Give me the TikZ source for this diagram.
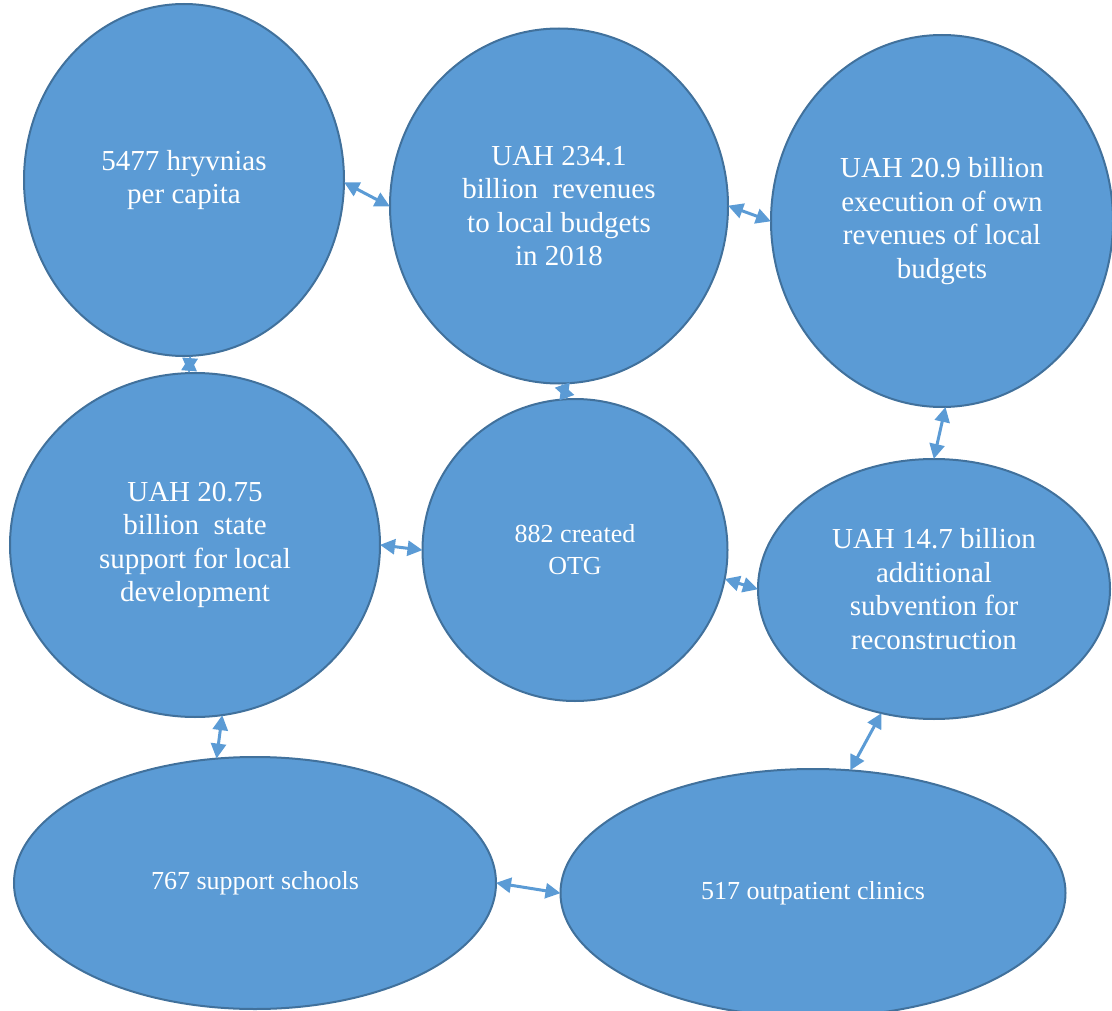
\documentclass[tikz,border=0pt]{standalone}
\usepackage{fontspec}
\setmainfont{Liberation Serif}
\usetikzlibrary{shapes.geometric,arrows.meta}
\definecolor{bluefill}{HTML}{5B9BD5}
\definecolor{blueedge}{HTML}{41719C}
\tikzset{
  bubble/.style={ellipse, fill=bluefill, draw=blueedge, line width=2pt, inner sep=0pt,
    text=white, align=center, font=\fontsize{29}{33.5}\selectfont},
  smalltext/.style={font=\fontsize{26}{32}\selectfont},
  link/.style={draw=bluefill, line width=3pt,
    {Triangle[length=15pt,width=15pt]}-{Triangle[length=15pt,width=15pt]}, shorten <=-1pt, shorten >=-1pt}
}
\begin{document}
\begin{tikzpicture}[x=1pt,y=-1pt]
\useasboundingbox (0,0) rectangle (1112,1011);
\node[bubble, minimum width=320pt, minimum height=352pt] (a) at (184,180) {5477 hryvnias\\per capita};
\node[bubble, minimum width=338pt, minimum height=355pt] (b) at (559,206) {UAH 234.1\\billion\ \ revenues\\to local budgets\\in 2018};
\node[bubble, minimum width=342pt, minimum height=372pt] (c) at (942,221) {UAH 20.9 billion\\execution of own\\revenues of local\\budgets};
\node[bubble, minimum width=370pt, minimum height=344pt] (d) at (195,545) {UAH 20.75\\billion\ \ state\\support for local\\development};
\node[bubble, smalltext, minimum width=305pt, minimum height=302pt] (e) at (575,550) {882 created\\OTG};
\node[bubble, minimum width=352pt, minimum height=260pt] (f) at (934,589) {UAH 14.7 billion\\additional\\subvention for\\reconstruction};
\node[bubble, smalltext, minimum width=482pt, minimum height=252pt] (g) at (255,883) {767 support schools};
\node[bubble, smalltext, minimum width=505pt, minimum height=248pt] (h) at (813,893) {517 outpatient clinics};

\draw[link] (a.-1.8) -- (b.180);
\draw[link] (b.-0.7) -- (c.180);
\draw[link] (a.-88.7) -- (d.92.3);
\draw[link] (b.-89) -- (e.93.4);
\draw[link] (d.-0.6) -- (e.180);
\draw[link] (e.-11) -- (f.180);
\draw[link] (c.-89.4) -- (f.90);
\draw[link] (f.-113) -- (h.73);
\draw[link] (d.-81.4) -- (g.107);
\draw[link] (g.0) -- (h.180);
\end{tikzpicture}
\end{document}
